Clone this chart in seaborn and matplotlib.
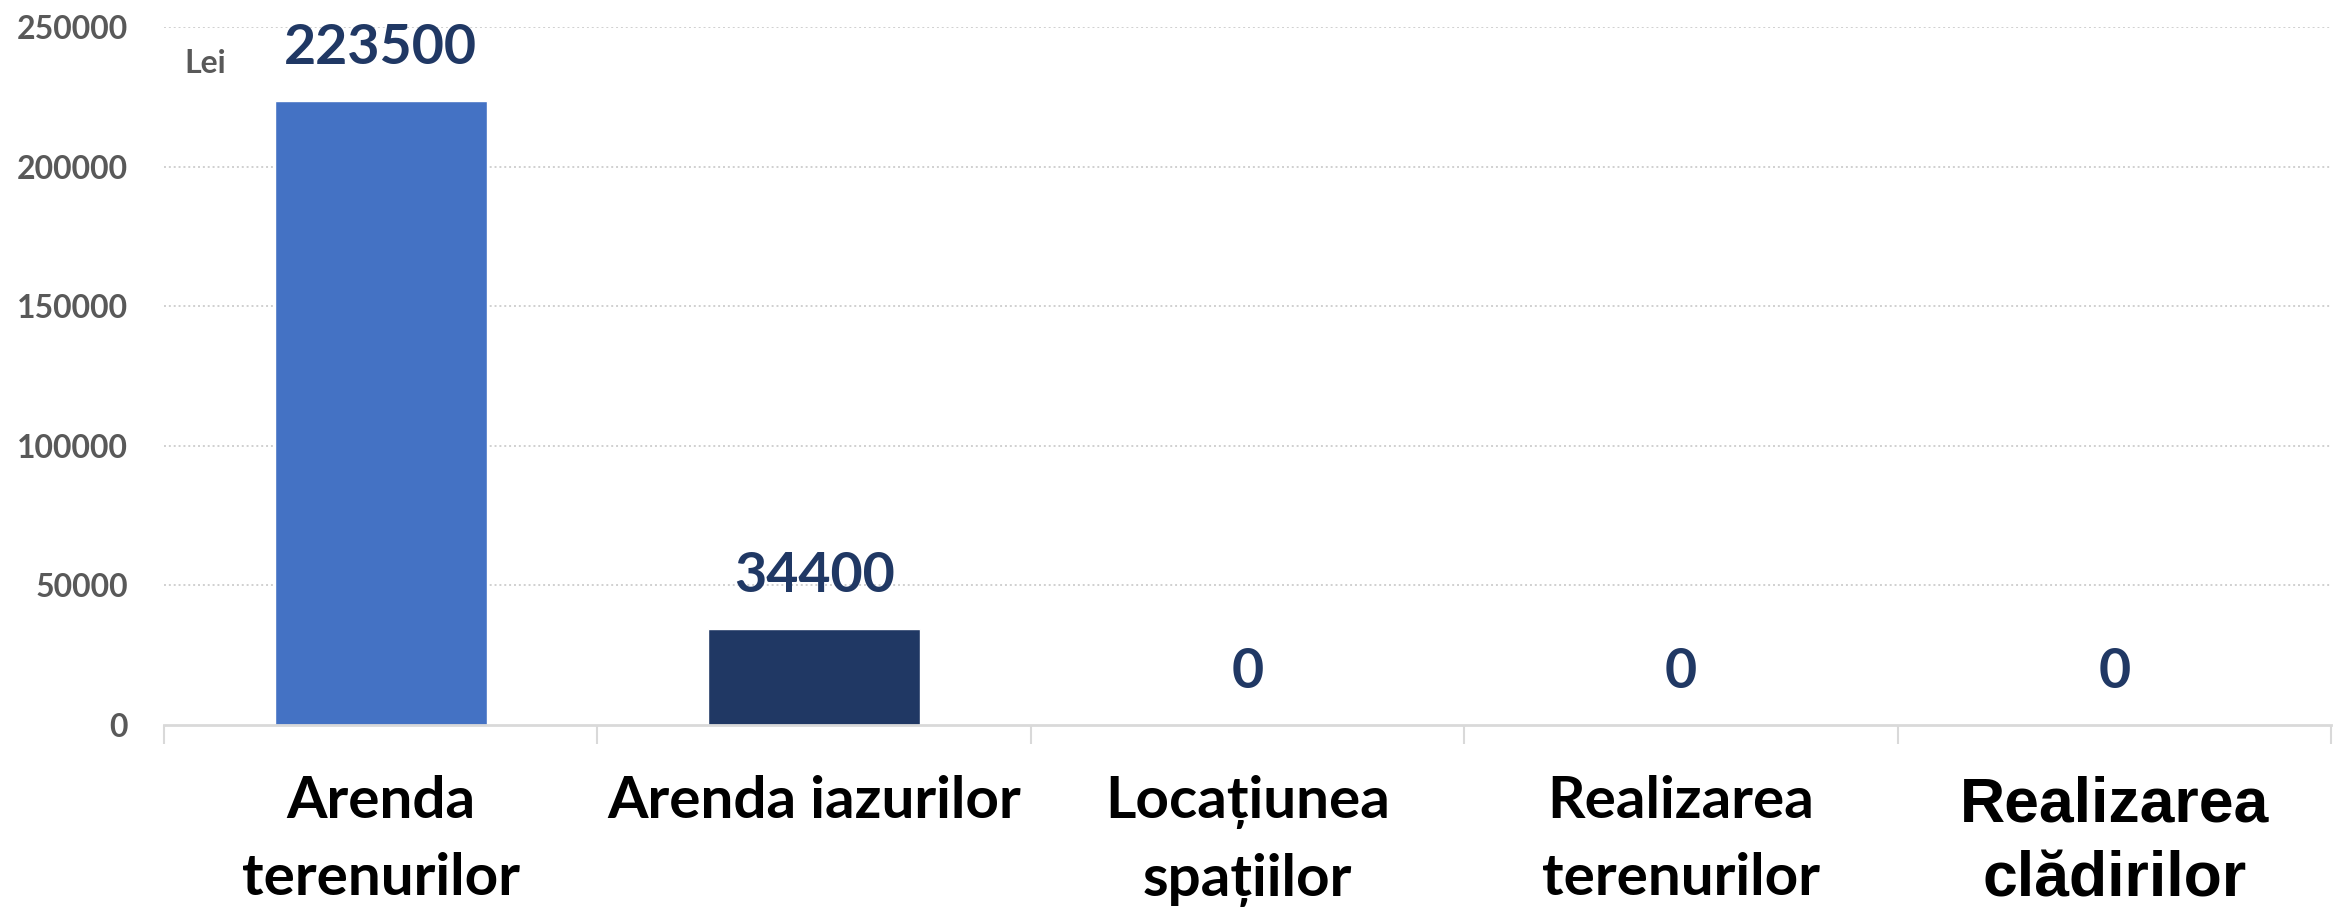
import matplotlib
matplotlib.use("Agg")
import matplotlib.pyplot as plt
import seaborn as sns
import pandas as pd
import numpy as np

# data
categories = ["Arenda\nterenurilor", "Arenda iazurilor", "Locațiunea\nspațiilor",
              "Realizarea\nterenurilor", "Realizarea\nclădirilor"]
values = [223500, 34400, 0, 0, 0]
bar_colors = ["#4472C4", "#203864", "#4472C4", "#4472C4", "#4472C4"]
y_ticks = [0, 50000, 100000, 150000, 200000, 250000]
unit_label = "Lei"

sns.set_theme(style="white")
plt.rcParams['font.family'] = ['Lato', 'DejaVu Sans']

df = pd.DataFrame({"cat": categories, "val": values})

fig = plt.figure(figsize=(23.43, 9.13), dpi=100)
ax = fig.add_axes([0.07, 0.2059, 0.9249, 0.7645])

sns.barplot(data=df, x="cat", y="val", hue="cat", palette=bar_colors,
            width=0.49, legend=False, ax=ax, saturation=1)

ax.set_xlim(-0.5, len(categories) - 0.5)
ax.set_ylim(0, 250000)
ax.set_yticks(y_ticks)
ax.set_yticklabels([str(t) for t in y_ticks], fontsize=23, fontweight="bold", color="#595959")
ax.tick_params(axis="y", length=0, pad=26)

# dotted gridlines
for t in y_ticks[1:]:
    ax.axhline(t, color="#D0D0D0", linestyle=(0, (1, 1.5)), linewidth=1.4, zorder=0)

for s in ["top", "right", "left"]:
    ax.spines[s].set_visible(False)
ax.spines["bottom"].set_color("#D9D9D9")
ax.spines["bottom"].set_linewidth(2)

# category separators as minor ticks
ax.set_xticks(np.arange(-0.5, len(categories)), minor=True)
ax.tick_params(axis="x", which="minor", length=14, width=1.5, color="#D9D9D9", bottom=True)
ax.tick_params(axis="x", which="major", length=0, pad=36)
ax.set_xlabel("")
ax.set_ylabel("")
labels = ax.get_xticklabels()
for lab in labels:
    lab.set_fontsize(42)
    lab.set_fontweight("bold")
    lab.set_color("black")
    lab.set_linespacing(1.55)
labels[-1].set_family(["Liberation Sans", "DejaVu Sans"])
labels[-1].set_fontsize(45)
labels[-1].set_linespacing(1.35)

# value labels
for i, v in enumerate(values):
    ax.annotate(f"{v}", (i, v), xytext=(0, 38), textcoords="offset points",
                ha="center", va="center", fontsize=40, fontweight="bold", color="#203864")

ax.text(0.019, 0.948, unit_label, transform=ax.transAxes, ha="center", va="center",
        fontsize=23, fontweight="bold", color="#595959")

fig.savefig("out.png", dpi=100)
